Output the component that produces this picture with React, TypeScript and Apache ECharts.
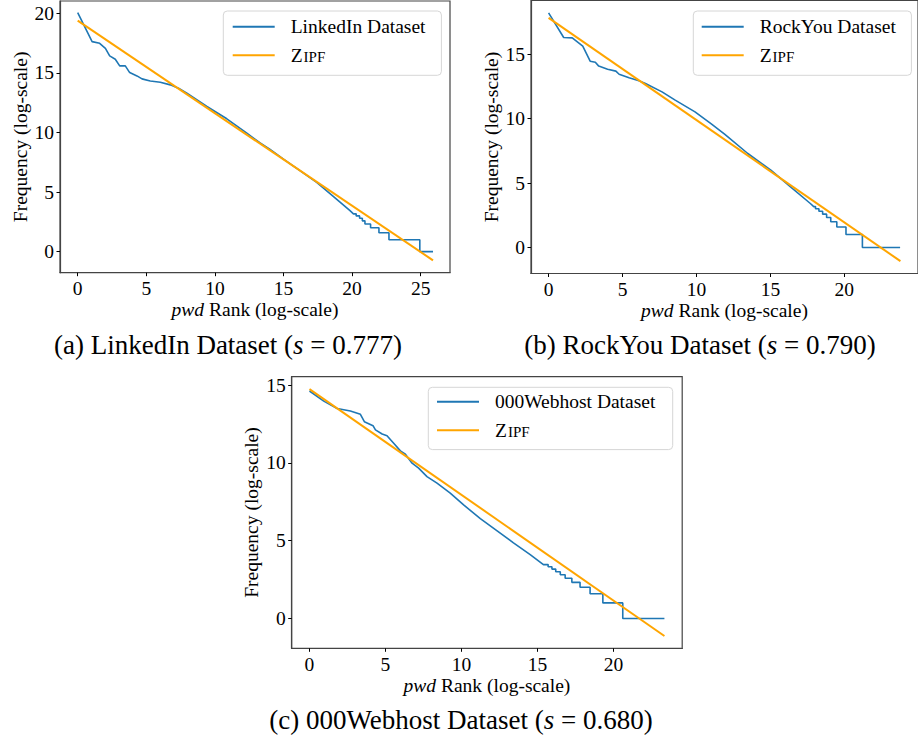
import React, { useEffect, useRef } from "react";
import * as echarts from "echarts";

const FONT = "'Liberation Serif', 'Times New Roman', serif";
const BLUE = "#1f77b4";
const ORANGE = "#ffa500";
const FRAME = "#444";

// (a) LinkedIn
const linkedinRank = [0, 1.05, 1.6, 2.02, 2.33, 2.74, 3.06, 3.47, 3.79, 4.32, 4.69, 5.29, 6.02, 6.75, 7.35, 7.96, 9.42, 10.87, 12.33, 13.3, 14.0, 15.0, 16.2, 17.42, 18.63, 19.85, 20.1, 20.3, 20.3, 20.55, 20.55, 20.75, 20.75, 20.94, 20.94, 21.35, 21.35, 21.96, 21.96, 22.69, 22.69, 24.94, 24.94, 25.9];
const linkedinFreq = [20.06, 17.63, 17.49, 17.07, 16.43, 16.15, 15.59, 15.59, 15.03, 14.75, 14.5, 14.33, 14.22, 14.0, 13.72, 13.3, 12.18, 11.15, 9.95, 9.12, 8.6, 7.76, 6.8, 5.81, 4.64, 3.44, 3.17, 3.17, 3.0, 3.0, 2.807, 2.807, 2.585, 2.585, 2.32, 2.32, 2.0, 2.0, 1.585, 1.585, 1.0, 1.0, 0, 0];
const linkedinZipfRank = [0, 25.9];
const linkedinZipfFreq = [19.39, -0.73];

// (b) RockYou
const rockyouRank = [0, 1.02, 1.6, 2.31, 2.81, 3.16, 3.39, 3.99, 4.55, 4.77, 5.44, 6.11, 6.55, 7.67, 8.56, 9.9, 11.0, 11.9, 13.47, 15.03, 16.36, 17.7, 17.93, 18.05, 18.05, 18.28, 18.28, 18.53, 18.53, 18.8, 18.8, 19.08, 19.08, 19.49, 19.49, 20.11, 20.11, 21.22, 21.22, 23.77];
const rockyouFreq = [18.2, 16.29, 16.26, 15.62, 14.45, 14.37, 14.07, 13.83, 13.68, 13.44, 13.16, 12.93, 12.72, 12.07, 11.43, 10.52, 9.58, 8.8, 7.29, 6.0, 4.7, 3.41, 3.17, 3.17, 3.0, 3.0, 2.807, 2.807, 2.585, 2.585, 2.32, 2.32, 2.0, 2.0, 1.585, 1.585, 1.0, 1.0, 0, 0];
const rockyouZipfRank = [0, 23.79];
const rockyouZipfFreq = [17.81, -1.06];

// (c) 000Webhost
const webhostRank = [0, 0.94, 1.82, 2.69, 3.35, 3.61, 4.18, 4.34, 4.78, 5.1, 5.54, 5.98, 6.31, 6.75, 7.18, 7.73, 8.39, 9.26, 10.14, 11.24, 12.3, 13.42, 14.52, 15.39, 15.7, 15.7, 15.95, 15.95, 16.2, 16.2, 16.5, 16.5, 16.82, 16.82, 17.26, 17.26, 17.8, 17.8, 18.46, 18.46, 19.3, 19.3, 20.61, 20.61, 23.35];
const webhostFreq = [14.62, 13.97, 13.5, 13.33, 13.12, 12.65, 12.39, 12.12, 11.86, 11.75, 11.26, 10.77, 10.56, 9.98, 9.66, 9.12, 8.7, 8.06, 7.3, 6.41, 5.66, 4.86, 4.1, 3.46, 3.46, 3.32, 3.32, 3.17, 3.17, 3.0, 3.0, 2.807, 2.807, 2.585, 2.585, 2.32, 2.32, 2.0, 2.0, 1.585, 1.585, 1.0, 1.0, 0, 0];
const webhostZipfRank = [0, 23.35];
const webhostZipfFreq = [14.74, -1.13];

const xTicksA = [0, 5, 10, 15, 20, 25];
const yTicksA = [0, 5, 10, 15, 20];
const xTicksB = [0, 5, 10, 15, 20];
const yTicksB = [0, 5, 10, 15];
const xTicksC = [0, 5, 10, 15, 20];
const yTicksC = [0, 5, 10, 15];

const datasetNames = ["LinkedIn Dataset", "RockYou Dataset", "000Webhost Dataset"];
const captions = [
  "{r|(a) LinkedIn Dataset (}{i|s}{r| = 0.777)}",
  "{r|(b) RockYou Dataset (}{i|s}{r| = 0.790)}",
  "{r|(c) 000Webhost Dataset (}{i|s}{r| = 0.680)}",
];
const xTitle = "{i|pwd}{r| Rank (log-scale)}";
const yTitle = "{r|Frequency (log-scale)}";

const zip = (xs: number[], ys: number[]) => xs.map((x, i) => [x, ys[i]]);

const FS = 19.5;
const CAP_FS = 27;

const richText = (size: number) => ({
  r: { fontFamily: FONT, fontSize: size, color: "#000" },
  i: { fontFamily: FONT, fontSize: size, fontStyle: "italic", color: "#000" },
});

function xAxis(gridIndex: number, min: number, max: number, ticks: number[]) {
  return {
    type: "value",
    gridIndex,
    min,
    max,
    splitLine: { show: false },
    axisLine: { show: true, onZero: false, lineStyle: { color: FRAME, width: 1.2 } },
    axisTick: { show: true, length: 3.5, customValues: ticks, lineStyle: { color: "#000", width: 1 } },
    axisLabel: { customValues: ticks, margin: 6, fontFamily: FONT, fontSize: FS, color: "#000" },
    name: xTitle,
    nameLocation: "middle",
    nameGap: 26,
    nameTextStyle: { fontFamily: FONT, fontSize: FS, color: "#000", rich: richText(FS) },
  };
}

function yAxis(gridIndex: number, min: number, max: number, ticks: number[]) {
  return {
    type: "value",
    gridIndex,
    min,
    max,
    splitLine: { show: false },
    axisLine: { show: true, onZero: false, lineStyle: { color: FRAME, width: 1.2 } },
    axisTick: { show: true, length: 3.5, customValues: ticks, lineStyle: { color: "#000", width: 1 } },
    axisLabel: { customValues: ticks, margin: 6, fontFamily: FONT, fontSize: FS, color: "#000" },
    name: yTitle,
    nameLocation: "middle",
    nameGap: 30,
    nameTextStyle: { fontFamily: FONT, fontSize: FS, color: "#000", rich: richText(FS) },
  };
}

function legend(name: string, left: number, top: number, textWidth: number, padding: number[]) {
  return {
    orient: "vertical",
    left,
    top,
    data: [name, "Zipf"],
    itemWidth: 42,
    itemHeight: 14,
    itemGap: 8.6,
    padding,
    borderColor: "#d6d6d6",
    borderWidth: 1,
    borderRadius: 4,
    backgroundColor: "rgba(255,255,255,0.8)",
    itemStyle: { opacity: 0 },
    formatter: (n: string) => (n === "Zipf" ? "{z|Z}{sc|IPF}" : n),
    textStyle: {
      fontFamily: FONT,
      fontSize: FS,
      color: "#000",
      lineHeight: 20,
      width: textWidth,
      padding: [0, 0, 0, 11],
      rich: {
        z: { fontFamily: FONT, fontSize: FS, color: "#000", lineHeight: 20, verticalAlign: "bottom" },
        sc: { fontFamily: FONT, fontSize: 15, color: "#000", lineHeight: 20, verticalAlign: "bottom", padding: [0, 0, 1, 1] },
      },
    },
  };
}

function lineSeries(name: string, data: number[][], idx: number, color: string, width: number, z: number) {
  return {
    type: "line",
    name,
    xAxisIndex: idx,
    yAxisIndex: idx,
    data,
    symbol: "none",
    showSymbol: false,
    lineStyle: { color, width },
    itemStyle: { color },
    z,
  };
}

export default function App() {
  const ref = useRef<HTMLDivElement>(null);
  useEffect(() => {
    const chart = echarts.init(ref.current!, null, { renderer: "svg" });
    const capStyle = {
      fontFamily: FONT,
      fontSize: CAP_FS,
      fontWeight: "normal",
      color: "#000",
      rich: richText(CAP_FS),
    };
    chart.setOption({
      animation: false,
      backgroundColor: "#fff",
      title: [
        { text: captions[0], left: 228, top: 331, textAlign: "center", padding: 0, textStyle: capStyle },
        { text: captions[1], left: 700, top: 331, textAlign: "center", padding: 0, textStyle: capStyle },
        { text: captions[2], left: 461, top: 706, textAlign: "center", padding: 0, textStyle: capStyle },
      ],
      grid: [
        { left: 60, top: 1, width: 390, height: 271.7, show: true, borderColor: FRAME, borderWidth: 1.2, backgroundColor: "transparent" },
        { left: 531, top: 0.5, width: 391, height: 273, show: true, borderColor: FRAME, borderWidth: 1.2, backgroundColor: "transparent" },
        { left: 291.7, top: 376.7, width: 390.5, height: 271.6, show: true, borderColor: FRAME, borderWidth: 1.2, backgroundColor: "transparent" },
      ],
      xAxis: [
        xAxis(0, -1.29, 27.14, xTicksA),
        xAxis(1, -1.19, 24.98, xTicksB),
        xAxis(2, -1.17, 24.52, xTicksC),
      ],
      yAxis: [
        yAxis(0, -1.77, 21.04, yTicksA),
        yAxis(1, -2.02, 19.16, yTicksB),
        yAxis(2, -1.92, 15.54, yTicksC),
      ],
      legend: [
        legend(datasetNames[0], 223.3, 11, 141.4, [5.7, 9.3, 10, 8.4]),
        legend(datasetNames[1], 693.3, 11, 142.4, [5.7, 9.3, 10, 7.4]),
        legend(datasetNames[2], 428.3, 387.3, 168.4, [4.4, 9.3, 9.3, 7.7]),
      ],
      series: [
        lineSeries(datasetNames[0], zip(linkedinRank, linkedinFreq), 0, BLUE, 1.6, 2),
        lineSeries("Zipf", zip(linkedinZipfRank, linkedinZipfFreq), 0, ORANGE, 2, 3),
        lineSeries(datasetNames[1], zip(rockyouRank, rockyouFreq), 1, BLUE, 1.6, 2),
        lineSeries("Zipf", zip(rockyouZipfRank, rockyouZipfFreq), 1, ORANGE, 2, 3),
        lineSeries(datasetNames[2], zip(webhostRank, webhostFreq), 2, BLUE, 1.6, 2),
        lineSeries("Zipf", zip(webhostZipfRank, webhostZipfFreq), 2, ORANGE, 2, 3),
      ],
    });
    return () => chart.dispose();
  }, []);
  return (
    <div
      ref={ref}
      style={{ position: "absolute", left: 0, top: 0, width: 918, height: 740 }}
    />
  );
}
